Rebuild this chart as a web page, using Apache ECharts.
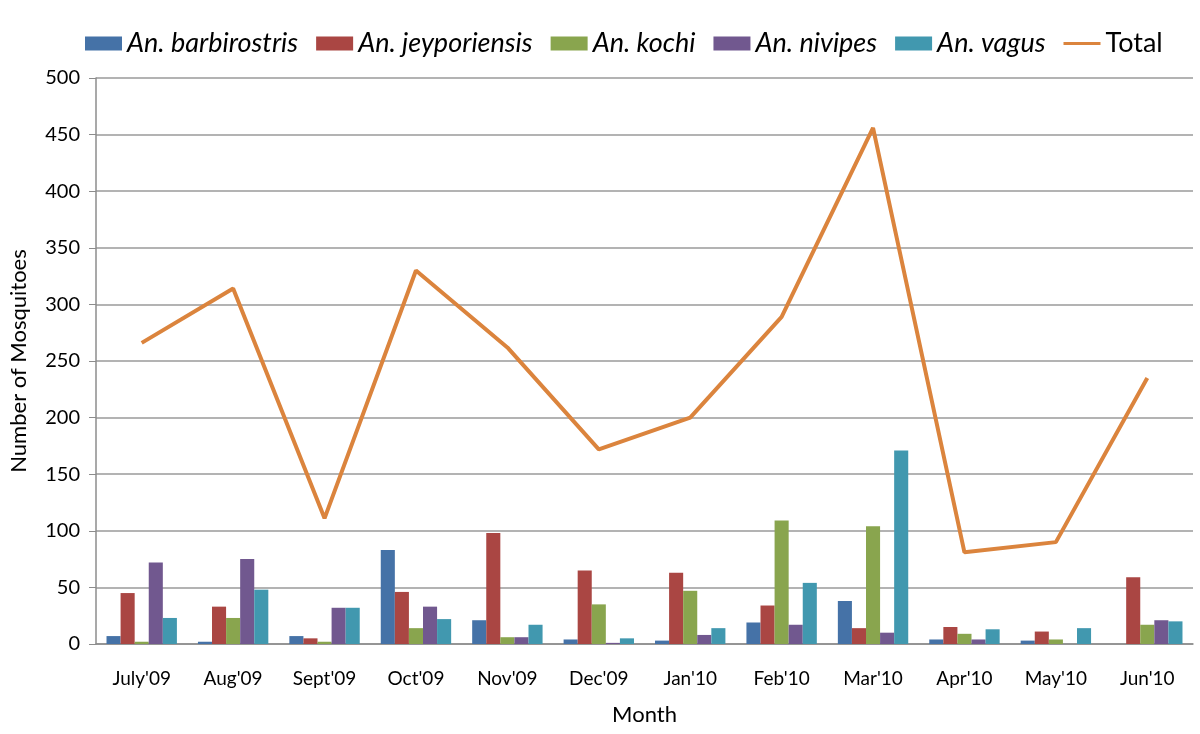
<!DOCTYPE html>
<html>
<head>
<meta charset="utf-8">
<script src="https://cdn.jsdelivr.net/npm/echarts@6/dist/echarts.min.js"></script>
<style>html,body{margin:0;padding:0;background:#fff}#c{width:1200px;height:734px}</style>
</head>
<body>
<div id="c"></div>
<script>
const months = ["July'09","Aug'09","Sept'09","Oct'09","Nov'09","Dec'09","Jan'10","Feb'10","Mar'10","Apr'10","May'10","Jun'10"];
const barbirostris = [7, 2, 7, 83, 21, 4, 3, 19, 38, 4, 3, 0];
const jeyporiensis = [45, 33, 5, 46, 98, 65, 63, 34, 14, 15, 11, 59];
const kochi = [2, 23, 2, 14, 6, 35, 47, 109, 104, 9, 4, 17];
const nivipes = [72, 75, 32, 33, 6, 1, 8, 17, 10, 4, 0, 21];
const vagus = [23, 48, 32, 22, 17, 5, 14, 54, 171, 13, 14, 20];
const total = [266, 314, 111, 330, 262, 172, 200, 289, 456, 81, 90, 235];
const yTicks = {min: 0, max: 500, interval: 50};

const font = "Lato, 'Open Sans', sans-serif";
const chart = echarts.init(document.getElementById('c'));
function bar(name, data, color) {
  return {name, type: 'bar', data, barGap: 0, barCategoryGap: '23%',
    itemStyle: {color}, animation: false};
}
chart.setOption({
  animation: false,
  textStyle: {fontFamily: font},
  legend: {
    top: 25, left: 80, itemWidth: 37, itemHeight: 14, itemGap: 18,
    textStyle: {fontSize: 27, color: '#000', fontFamily: font,
      rich: {i: {fontStyle: 'italic', fontSize: 27, fontFamily: font, color: '#000'},
             n: {fontSize: 27, fontFamily: font, color: '#000'}}},
    formatter: n => n === 'Total' ? '{n|' + n + '}' : '{i|' + n + '}',
    data: [
      {name: 'An. barbirostris', icon: 'rect'},
      {name: 'An. jeyporiensis', icon: 'rect'},
      {name: 'An. kochi', icon: 'rect'},
      {name: 'An. nivipes', icon: 'rect'},
      {name: 'An. vagus', icon: 'rect'},
      {name: 'Total', icon: 'path://M0,5.5 L37,5.5 L37,8.5 L0,8.5 Z'}
    ]
  },
  grid: {left: 93, right: 7, top: 78, bottom: 90, containLabel: false},
  xAxis: {
    type: 'category', data: months,
    name: 'Month', nameLocation: 'middle', nameGap: 60,
    nameTextStyle: {fontSize: 22, color: '#000', fontFamily: font},
    axisLine: {lineStyle: {color: '#8c8c8c', width: 1.5}},
    axisTick: {show: false},
    axisLabel: {fontSize: 19, color: '#000', margin: 25, fontFamily: font}
  },
  yAxis: {
    type: 'value', min: yTicks.min, max: yTicks.max, interval: yTicks.interval,
    name: 'Number of Mosquitoes', nameLocation: 'middle', nameGap: 66, nameRotate: 90,
    nameTextStyle: {fontSize: 22, color: '#000', fontFamily: font},
    axisLine: {show: true, lineStyle: {color: '#8c8c8c', width: 1.5}},
    axisTick: {show: true, length: 7, lineStyle: {color: '#8c8c8c'}},
    axisLabel: {fontSize: 20, color: '#000', margin: 16, fontFamily: font},
    splitLine: {lineStyle: {color: '#9a9a9a', width: 1.5}}
  },
  series: [
    bar('An. barbirostris', barbirostris, '#4572A7'),
    bar('An. jeyporiensis', jeyporiensis, '#AA4643'),
    bar('An. kochi', kochi, '#89A54E'),
    bar('An. nivipes', nivipes, '#71588F'),
    bar('An. vagus', vagus, '#4198AF'),
    {name: 'Total', type: 'line', data: total, symbol: 'none',
      itemStyle: {color: '#DB843D'}, lineStyle: {color: '#DB843D', width: 4}, z: 5}
  ]
});
</script>
</body>
</html>
